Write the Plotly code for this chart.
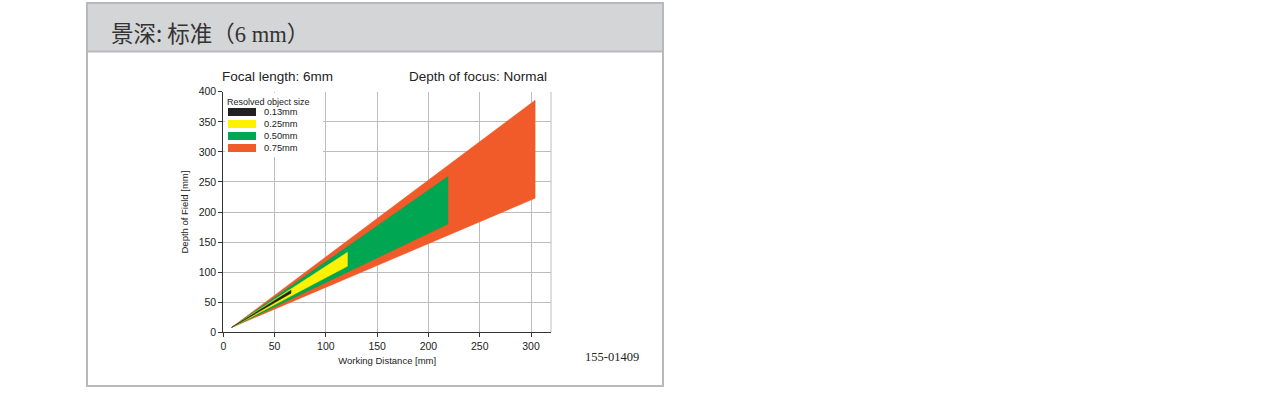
import plotly.graph_objects as go

# ---- data ----
sizes = ["0.13mm", "0.25mm", "0.50mm", "0.75mm"]
colors = ["#231f20", "#fff200", "#00a651", "#f15a29"]
tip_wd = [8, 8, 8, 8]
tip_dof = [8, 8, 8, 8]
far_wd = [66, 121, 219, 304]
dof_upper = [70, 133, 259, 386]
dof_lower = [65, 110, 180, 223]

x_ticks = [0, 50, 100, 150, 200, 250, 300]
y_ticks = [0, 50, 100, 150, 200, 250, 300, 350, 400]

W, H = 1281, 396
def px(x): return x / W
def py(y): return 1 - y / H

fig = go.Figure()
for i in reversed(range(len(sizes))):
    fig.add_trace(go.Scatter(
        x=[tip_wd[i], far_wd[i], far_wd[i], tip_wd[i]],
        y=[tip_dof[i], dof_upper[i], dof_lower[i], tip_dof[i]],
        mode="lines", fill="toself", fillcolor=colors[i],
        line=dict(color=colors[i], width=0.5),
        name=sizes[i], showlegend=False, hoverinfo="skip"))

x0, x1 = px(223.3), px(551)
y0, y1 = py(332.3), py(91.8)

fig.update_layout(
    width=W, height=H, autosize=False,
    margin=dict(l=0, r=0, t=0, b=0, pad=0, autoexpand=False),
    paper_bgcolor="white", plot_bgcolor="white",
    showlegend=False,
    font=dict(family="Liberation Sans, Arial", color="#222"),
    xaxis=dict(domain=[x0, x1], range=[0, 319.5], tickvals=x_ticks,
               showgrid=True, gridcolor="#bdbdbd", gridwidth=1,
               showline=True, linecolor="#333", linewidth=1,
               ticks="outside", ticklen=4, tickcolor="#333",
               tickfont=dict(size=10.5, color="#222"), zeroline=False, automargin=False,
               title=dict(text="Working Distance [mm]", font=dict(size=9.5, color="#222"), standoff=6)),
    yaxis=dict(domain=[y0, y1], range=[0, 400], tickvals=y_ticks,
               showgrid=True, gridcolor="#bdbdbd", gridwidth=1,
               showline=True, linecolor="#333", linewidth=1,
               ticks="outside", ticklen=4, tickcolor="#333",
               tickfont=dict(size=10.5, color="#222"), zeroline=False, automargin=False,
               title=dict(text="Depth of Field [mm]", font=dict(size=9.5, color="#222"), standoff=8)),
)

shapes = []
shapes.append(dict(type="rect", xref="paper", yref="paper",
                   x0=px(87), x1=px(663), y0=py(386), y1=py(3),
                   line=dict(color="#b9b9bb", width=2), fillcolor="white", layer="below"))
shapes.append(dict(type="rect", xref="paper", yref="paper",
                   x0=px(87), x1=px(663), y0=py(51.5), y1=py(3),
                   line=dict(color="#b9b9bb", width=2), fillcolor="#d4d5d7", layer="below"))
shapes.append(dict(type="line", xref="paper", yref="paper",
                   x0=x1, x1=x1, y0=y0, y1=y1, line=dict(color="#bdbdbd", width=1), layer="below"))
shapes.append(dict(type="rect", xref="paper", yref="paper",
                   x0=px(225), x1=px(323), y0=py(157), y1=py(93),
                   line=dict(width=0), fillcolor="white", layer="above"))

annotations = []
legend_y = [112, 124, 136, 148]
for i, lab in enumerate(sizes):
    yc = legend_y[i]
    shapes.append(dict(type="rect", xref="paper", yref="paper",
                       x0=px(228), x1=px(256), y0=py(yc + 4), y1=py(yc - 4),
                       line=dict(width=0), fillcolor=colors[i], layer="above"))
    annotations.append(dict(xref="paper", yref="paper", x=px(262), y=py(yc),
                            xanchor="left", yanchor="middle", showarrow=False,
                            text=lab, font=dict(size=9.3, color="#222")))
annotations.append(dict(xref="paper", yref="paper", x=px(225), y=py(102),
                        xanchor="left", yanchor="middle", showarrow=False,
                        text="Resolved object size", font=dict(size=9, color="#222")))

annotations += [
    dict(xref="paper", yref="paper", x=px(220), y=py(77), xanchor="left", yanchor="middle",
         showarrow=False, text="Focal length: 6mm", font=dict(size=13.5, color="#222")),
    dict(xref="paper", yref="paper", x=px(549), y=py(77), xanchor="right", yanchor="middle",
         showarrow=False, text="Depth of focus: Normal", font=dict(size=13.5, color="#222")),
    dict(xref="paper", yref="paper", x=px(109), y=py(32), xanchor="left", yanchor="middle",
         showarrow=False,
         text='景深: 标准（<span style="font-family:Liberation Serif">6 mm</span>）',
         font=dict(size=22.5, color="#333", family="Noto Sans CJK SC")),
    dict(xref="paper", yref="paper", x=px(641), y=py(357), xanchor="right", yanchor="middle",
         showarrow=False, text="155-01409",
         font=dict(size=12.5, color="#222", family="Liberation Serif")),
]

fig.update_layout(shapes=shapes, annotations=annotations)

post_js = (
    "document.body.style.margin='0px';"
    "document.documentElement.style.overflow='hidden';"
    "document.body.style.overflow='hidden';"
)
fig.write_html("out.html", config={"displayModeBar": False}, post_script=post_js)
